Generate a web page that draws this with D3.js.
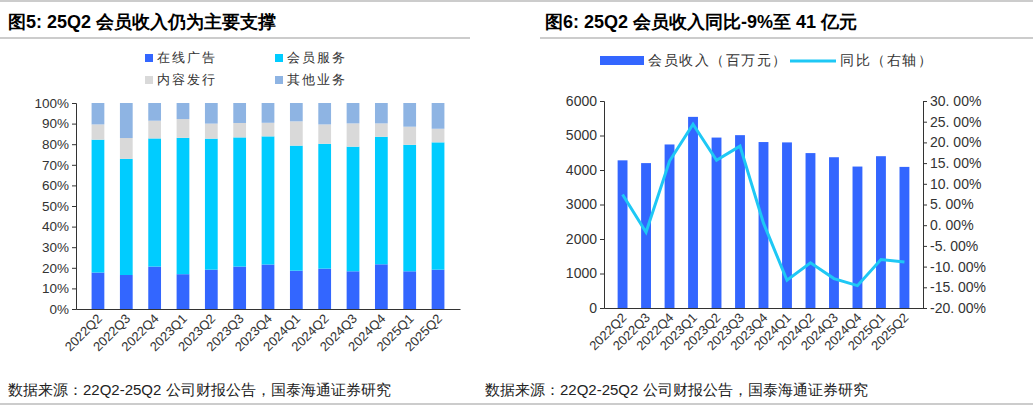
<!DOCTYPE html><html><head><meta charset="utf-8"><script src="https://cdn.jsdelivr.net/npm/d3@7"></script>
<style>body{margin:0;background:#fff}text{font-family:"Liberation Sans",Arial,sans-serif}</style></head><body><svg width="1033" height="407"></svg>
<script>
const quarters=["2022Q2","2022Q3","2022Q4","2023Q1","2023Q2","2023Q3","2023Q4","2024Q1","2024Q2","2024Q3","2024Q4","2025Q1","2025Q2"];
const adShare=[17.7,16.5,20.6,16.9,19.1,20.6,21.6,18.6,19.6,18.3,21.7,18.3,19.1];
const memberShare=[64.5,56.4,62.2,66.2,63.6,62.7,62.2,60.7,60.6,60.5,61.9,61.4,61.8];
const contentShare=[7.4,10.1,8.6,9.1,7.3,7.0,6.6,11.8,9.4,11.3,6.5,8.8,6.6];
const otherShare=adShare.map((d,i)=>+(100-d-memberShare[i]-contentShare[i]).toFixed(1));
const memberRevenue=[4280,4200,4740,5540,4940,5010,4810,4800,4490,4370,4100,4400,4090];
const memberYoY=[7.4,-1.7,15.5,24.4,15.7,19.1,0.5,-13.3,-9.1,-12.9,-14.6,-8.3,-8.9];
const leftTicks=[0,10,20,30,40,50,60,70,80,90,100];
const svg=d3.select("svg");
const serif='"Liberation Serif","Noto Sans CJK SC",serif';
const cjk='"Noto Sans CJK SC","Liberation Sans",sans-serif';
svg.append("line").attr("x1",0).attr("x2",1033).attr("y1",1).attr("y2",1).attr("stroke","#999");
svg.append("line").attr("x1",0).attr("x2",470).attr("y1",38).attr("y2",38).attr("stroke","#999");
svg.append("line").attr("x1",540).attr("x2",1033).attr("y1",38).attr("y2",38).attr("stroke","#999");
svg.append("text").attr("x",8).attr("y",28).attr("font-family",serif).attr("font-weight","bold").attr("font-size",18).text("图5:  25Q2 会员收入仍为主要支撑");
svg.append("text").attr("x",545).attr("y",28).attr("font-family",serif).attr("font-weight","bold").attr("font-size",18).text("图6:  25Q2 会员收入同比-9%至 41 亿元");
const xL=d3.scaleBand().domain(quarters).range([76,460]).padding(0.55);
const yL=d3.scaleLinear().domain([0,100]).range([309,103]);
const keys=["ad","member","content","other"];
const colors={ad:"#3366FF",member:"#00CCFF",content:"#D9D9D9",other:"#8EB4E3"};
const rows=quarters.map((q,i)=>({q,ad:adShare[i],member:memberShare[i],content:contentShare[i],other:otherShare[i]}));
const stack=d3.stack().keys(keys)(rows);
svg.append("g").selectAll("g").data(stack).join("g").attr("fill",d=>colors[d.key])
 .selectAll("rect").data(d=>d).join("rect").attr("x",d=>xL(d.data.q)).attr("width",xL.bandwidth())
 .attr("y",d=>yL(d[1])).attr("height",d=>yL(d[0])-yL(d[1]));
const gl=svg.append("g").attr("transform","translate(76,0)").call(d3.axisLeft(yL).tickValues(leftTicks).tickFormat(d=>d+"%").tickSize(4));
gl.selectAll("text").attr("font-size",13.5).attr("fill","#333");
const gbl=svg.append("g").attr("transform","translate(0,309)").call(d3.axisBottom(xL).tickSize(0));
gbl.selectAll("text").attr("font-size",13).attr("fill","#333").attr("text-anchor","end").attr("transform","rotate(-45)").attr("dx","-0.3em").attr("dy","0.6em");
[gl,gbl].forEach(g=>g.selectAll("path,line").attr("stroke","#333"));
const legL=[["在线广告","ad",145,62],["会员服务","member",275,62],["内容发行","content",145,84],["其他业务","other",275,84]];
legL.forEach(([t,k,x,y])=>{svg.append("rect").attr("x",x).attr("y",y-8).attr("width",8).attr("height",8).attr("fill",colors[k]);
 svg.append("text").attr("x",x+12).attr("y",y).attr("font-family",cjk).attr("font-size",13).attr("letter-spacing",2).attr("fill","#333").text(t);});
const xR=d3.scaleBand().domain(quarters).range([604,923]).padding(0.58);
const yR=d3.scaleLinear().domain([0,6000]).range([308,101]);
const yR2=d3.scaleLinear().domain([-20,30]).range([308,101]);
svg.append("g").selectAll("rect").data(memberRevenue).join("rect").attr("fill","#3366FF")
 .attr("x",(d,i)=>xR(quarters[i])).attr("width",xR.bandwidth()).attr("y",d=>yR(d)).attr("height",d=>308-yR(d));
svg.append("path").datum(memberYoY).attr("fill","none").attr("stroke","#1EC8F5").attr("stroke-width",3)
 .attr("d",d3.line().x((d,i)=>xR(quarters[i])+xR.bandwidth()/2).y(d=>yR2(d)));
const gr=svg.append("g").attr("transform","translate(604,0)").call(d3.axisLeft(yR).ticks(6).tickFormat(d3.format("d")).tickSize(4));
gr.selectAll("text").attr("font-size",14).attr("fill","#333");
const gr2=svg.append("g").attr("transform","translate(923,0)").call(d3.axisRight(yR2).tickValues(d3.range(-20,31,5)).tickFormat(d=>d.toFixed(2).replace(".",". ")+"%").tickSize(4));
gr2.selectAll("text").attr("font-size",14).attr("fill","#333");
const gbr=svg.append("g").attr("transform","translate(0,308)").call(d3.axisBottom(xR).tickSize(0));
gbr.selectAll("text").attr("font-size",13).attr("fill","#333").attr("text-anchor","end").attr("transform","rotate(-45)").attr("dx","-0.3em").attr("dy","0.6em");
[gr,gr2,gbr].forEach(g=>g.selectAll("path,line").attr("stroke","#333"));
svg.append("rect").attr("x",600).attr("y",56).attr("width",44).attr("height",9).attr("fill","#3366FF");
svg.append("text").attr("x",648).attr("y",65).attr("font-family",cjk).attr("font-size",13.5).attr("letter-spacing",1.5).attr("fill","#333").text("会员收入（百万元）");
svg.append("line").attr("x1",790).attr("x2",836).attr("y1",61).attr("y2",61).attr("stroke","#1EC8F5").attr("stroke-width",3);
svg.append("text").attr("x",840).attr("y",65).attr("font-family",cjk).attr("font-size",13.5).attr("letter-spacing",1.5).attr("fill","#333").text("同比（右轴）");
svg.append("text").attr("x",8).attr("y",395).attr("font-family",cjk).attr("font-size",15).attr("fill","#222").text("数据来源：22Q2-25Q2 公司财报公告，国泰海通证券研究");
svg.append("text").attr("x",485).attr("y",395).attr("font-family",cjk).attr("font-size",15).attr("fill","#222").text("数据来源：22Q2-25Q2 公司财报公告，国泰海通证券研究");
svg.append("line").attr("x1",0).attr("x2",1033).attr("y1",404).attr("y2",404).attr("stroke","#999");
</script></body></html>
